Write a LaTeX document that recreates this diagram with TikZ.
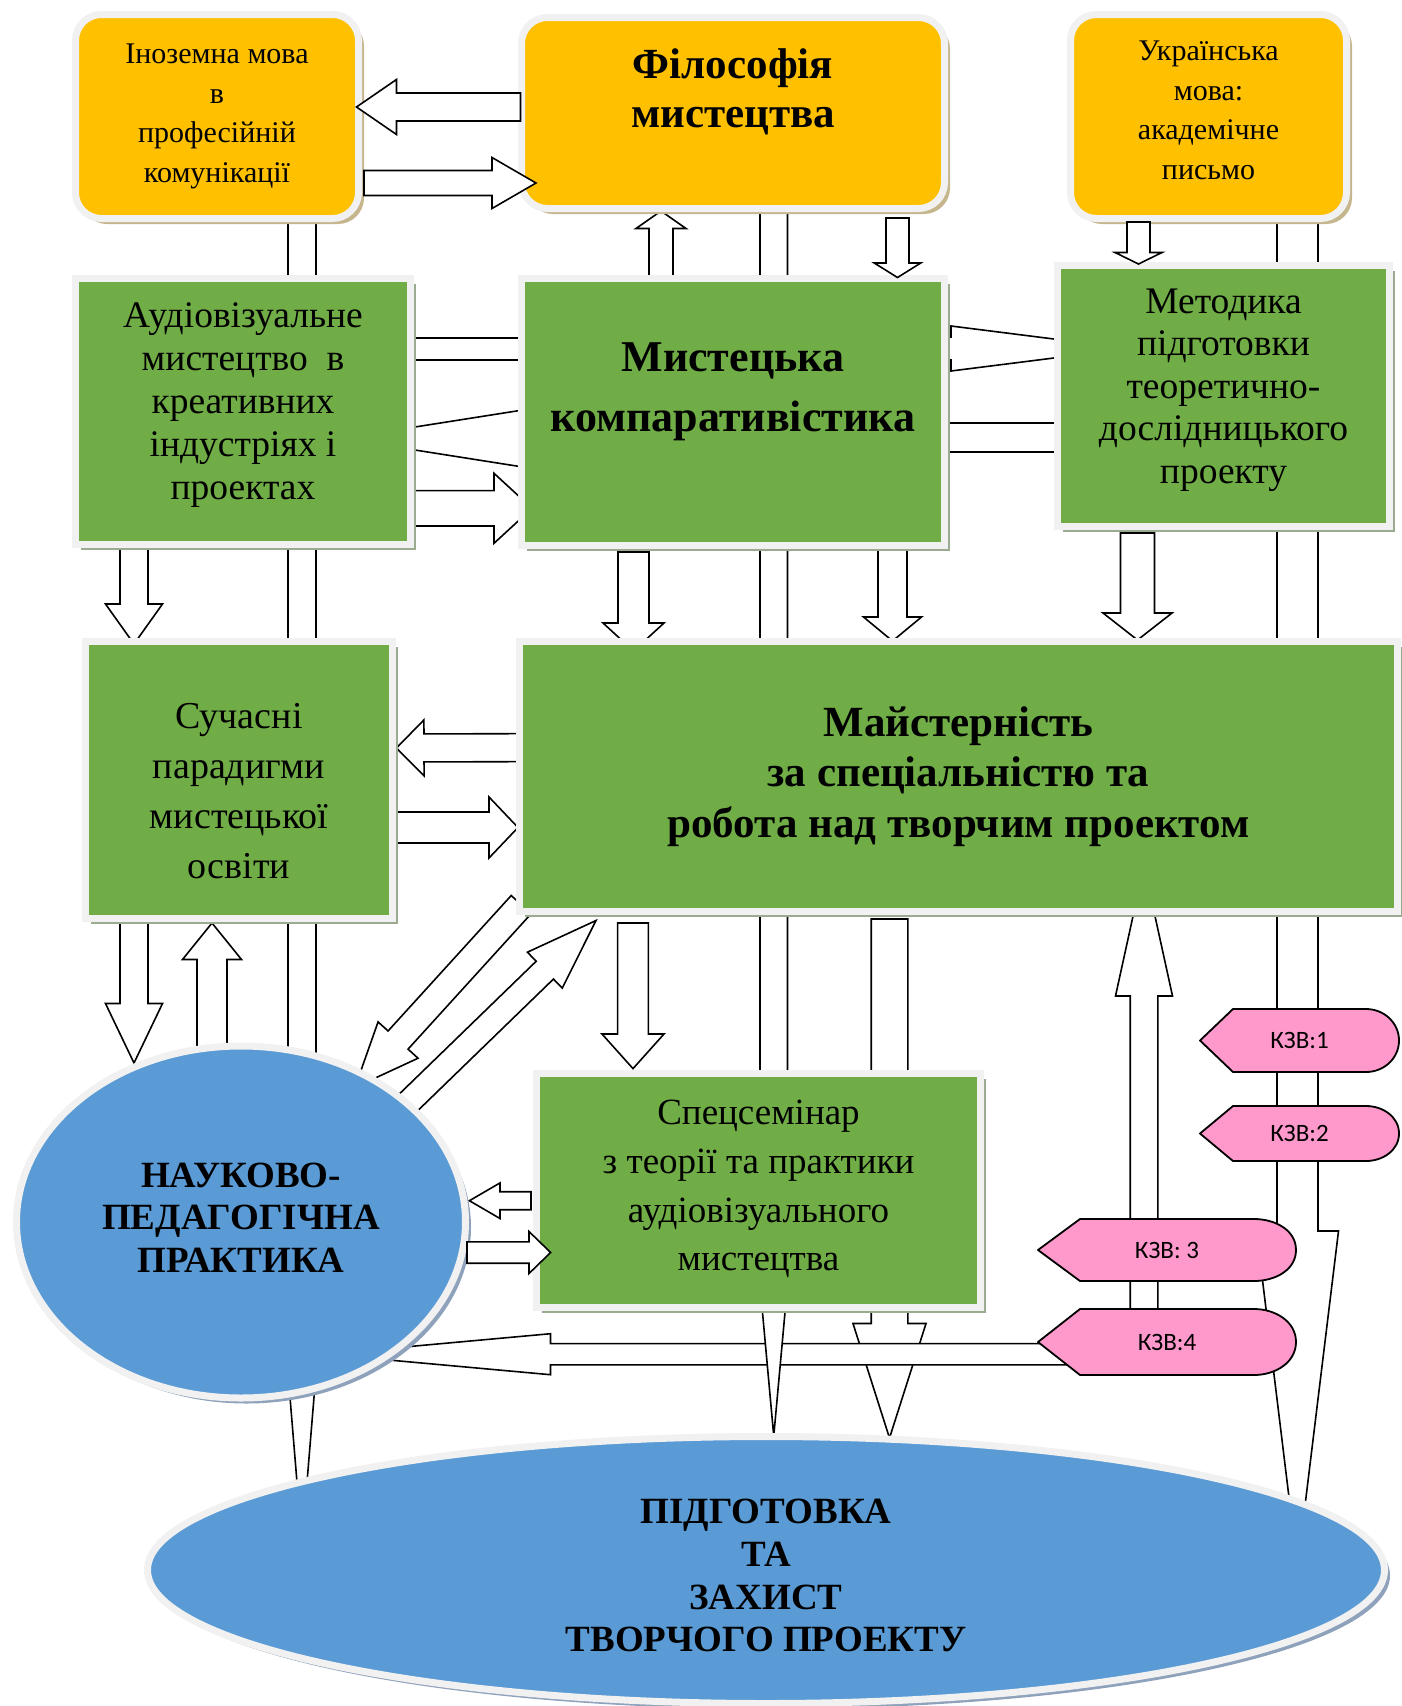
\documentclass[tikz,border=0pt]{standalone}
\usepackage{fontspec}
\setmainfont{Liberation Serif}
\newfontfamily\kzvfont{Carlito}
\usetikzlibrary{calc,shadows,shapes.geometric,backgrounds}

\definecolor{orangefill}{HTML}{FFC000}
\definecolor{greenfill}{HTML}{70AD47}
\definecolor{bluefill}{HTML}{5B9BD5}
\definecolor{pinkfill}{HTML}{FF99CC}
\definecolor{framegray}{HTML}{F1F1F1}
\definecolor{tanshadow}{HTML}{C6B68E}
\definecolor{greenshadow}{HTML}{9AAB90}
\definecolor{blueshadow}{HTML}{8FA2BC}

\tikzset{
  box/.style={rectangle, draw=framegray, line width=7pt, inner sep=0pt, align=center},
  orangebox/.style={box, fill=orangefill, rounded corners=26pt,
    drop shadow={shadow xshift=5.5pt, shadow yshift=-5.5pt, fill=tanshadow, opacity=1}},
  greenbox/.style={box, fill=greenfill,
    drop shadow={shadow xshift=5.5pt, shadow yshift=-5.5pt, fill=greenshadow, opacity=1}},
  bluebox/.style={ellipse, draw=framegray, line width=7pt, inner sep=0pt, align=center, fill=bluefill,
    drop shadow={shadow xshift=5.5pt, shadow yshift=-5.5pt, fill=blueshadow, opacity=1}},
  fatline/.style={draw=black, fill=white, line width=1.6pt, line join=miter, miter limit=25},
  kzvline/.style={draw=black, fill=pinkfill, line width=1.8pt, line join=round},
  kzvtext/.style={inner sep=0pt, font=\kzvfont\fontsize{25}{30}\selectfont},
}

% struts that move a text block inside its box
\newcommand{\lowstrut}[1]{\rule[-#1pt]{0pt}{#1pt}}
\newcommand{\highstrut}[1]{\rule{0pt}{#1pt}}

% block arrow: from, to, half shaft, half head, head length
\newcommand{\fatarrow}[5]{%
  \coordinate (fa-s) at #1;
  \coordinate (fa-e) at #2;
  \coordinate (fa-h) at ($(fa-e)!#5pt!(fa-s)$);
  \draw[fatline] ($(fa-s)!#3pt!90:(fa-e)$) -- ($(fa-h)!#3pt!-90:(fa-s)$)
    -- ($(fa-h)!#4pt!-90:(fa-s)$) -- (fa-e)
    -- ($(fa-h)!#4pt!90:(fa-s)$) -- ($(fa-h)!#3pt!90:(fa-s)$)
    -- ($(fa-s)!#3pt!-90:(fa-e)$) -- cycle;
}

% pink sign: name, centre, half width, half height, point depth, text
\newcommand{\kzvsign}[6]{%
  \coordinate (#1-c) at #2;
  \draw[kzvline] ($(#1-c)+(-#3,0)$) -- ($(#1-c)+(-#3+#5,-#4)$) -- ($(#1-c)+(#3-#5,-#4)$)
    to[out=0,in=90] ($(#1-c)+(#3,0)$) to[out=-90,in=0] ($(#1-c)+(#3-#5,#4)$)
    -- ($(#1-c)+(-#3+#5,#4)$) -- cycle;
  \node[kzvtext] (#1) at (#1-c) {#6};
}

\begin{document}
\begin{tikzpicture}[x=1pt,y=-1pt]
  \useasboundingbox (0,0) rectangle (1402,1706);

  \node[orangebox, minimum width=283pt, minimum height=204pt, font=\fontsize{30}{39.5}\selectfont]
    (inoz) at (217,116.5) {Іноземна мова\\в\\професійній\\комунікації};
  \node[orangebox, minimum width=423pt, minimum height=191pt, font=\bfseries\fontsize{43}{49}\selectfont]
    (filos) at (733,113) {Філософія\\мистецтва\\\mbox{}};
  \node[orangebox, minimum width=276pt, minimum height=204pt, font=\fontsize{30}{39.5}\selectfont]
    (ukr) at (1208.5,116.5) {Українська\\мова:\\академічне\\письмо\lowstrut{12.5}};

  \node[greenbox, minimum width=335pt, minimum height=266pt, font=\fontsize{37.5}{43}\selectfont]
    (audio) at (243,411.5) {Аудіовізуальне\\мистецтво~ в\\креативних\\індустріях і\\проектах\lowstrut{20}};
  \node[greenbox, minimum width=423pt, minimum height=267pt, font=\bfseries\fontsize{44}{60}\selectfont]
    (mist) at (733,412) {\highstrut{38}Мистецька\\компаративістика\\\mbox{}};
  \node[greenbox, minimum width=332pt, minimum height=261pt, font=\fontsize{37.5}{42.6}\selectfont]
    (metod) at (1223.5,396) {Методика\\підготовки\\теоретично-\\дослідницького\\проекту\lowstrut{20}};

  \node[greenbox, minimum width=307pt, minimum height=277pt, font=\fontsize{38}{50}\selectfont]
    (such) at (239,780) {\highstrut{48}Сучасні\\парадигми\\мистецької\\освіти};
  \node[greenbox, minimum width=878pt, minimum height=270pt, font=\bfseries\fontsize{43}{50.5}\selectfont]
    (maist) at (958.5,776.5) {Майстерність\\за спеціальністю та\\робота над творчим проектом};

  \node[greenbox, minimum width=444pt, minimum height=234pt, font=\fontsize{37}{48.8}\selectfont]
    (spec) at (758.5,1190.5) {Спецсемінар\\з теорії та практики\\аудіовізуального\\мистецтва\lowstrut{10}};
  \node[bluebox, minimum width=449pt, minimum height=352pt, font=\bfseries\fontsize{37}{42.5}\selectfont]
    (nauk) at (241,1222) {НАУКОВО-\\ПЕДАГОГІЧНА\\ПРАКТИКА\lowstrut{9}};
  \node[bluebox, minimum width=1237pt, minimum height=267pt, font=\bfseries\fontsize{37}{42.7}\selectfont]
    (pidg) at (766,1570) {\highstrut{36}ПІДГОТОВКА\\ТА\\ЗАХИСТ\\ТВОРЧОГО ПРОЕКТУ};

  \kzvsign{kzv1}{(1299.5,1040.5)}{99.5}{31.5}{33}{КЗВ:1}
  \kzvsign{kzv2}{(1299.5,1133.5)}{99.5}{27.5}{33}{КЗВ:2}
  \kzvsign{kzv3}{(1167,1250)}{129}{31}{42}{КЗВ: 3}
  \kzvsign{kzv4}{(1167,1342)}{129}{33}{42}{КЗВ:4}

  \begin{scope}[on background layer]
    \fatarrow{($(inoz.center)+(85,105.5)$)}{($(pidg.center)+(-464,-27)$)}{14}{14}{170}
    \fatarrow{($(mist.center)+(-72,-112)$)}{($(filos.center)+(-72,98)$)}{12}{25}{17.5}
    \fatarrow{($(ukr.center)+(89,105.5)$)}{($(pidg.center)+(531.5,-3)$)}{20.5}{41}{336}
    \draw[fatline] ($(audio.center)+(157,-73.5)$) rectangle ($(mist.center)+(-193,-52)$);
    \fatarrow{($(mist.center)+(-133,26.5)$)}{($(audio.center)+(99,27)$)}{11}{32}{203}
    \fatarrow{($(audio.center)+(57,96.8)$)}{($(mist.center)+(-201,96.3)$)}{17.7}{35}{38}
    \fatarrow{($(mist.center)+(167,-63.5)$)}{($(metod.center)+(-94.5,-47.5)$)}{11.5}{22.5}{178}
    \draw[fatline] ($(mist.center)+(167,11)$) rectangle ($(metod.center)+(-123.5,56)$);
    \fatarrow{($(mist.center)+(-99.5,140)$)}{($(maist.center)+(-325,-125.5)$)}{15.5}{30.5}{28}
    \fatarrow{($(mist.center)+(159.5,128)$)}{($(maist.center)+(-66,-135.5)$)}{14.5}{29}{24}
    \fatarrow{($(metod.center)+(-86,137)$)}{($(maist.center)+(179,-136.5)$)}{17}{34.5}{27}
    \fatarrow{($(audio.center)+(-109,128.5)$)}{($(such.center)+(-105,-136)$)}{14}{28.5}{40}
    \fatarrow{($(maist.center)+(-418.5,-28.9)$)}{($(such.center)+(157.4,-32)$)}{14}{28}{27.6}
    \fatarrow{($(such.center)+(158,47.5)$)}{($(maist.center)+(-440.5,51)$)}{15.5}{30.5}{29}
    \fatarrow{($(such.center)+(-105,135)$)}{($(nauk.center)+(-107,-159)$)}{14}{28.5}{59.5}
    \fatarrow{($(nauk.center)+(-29,-162)$)}{($(such.center)+(-27,143)$)}{15}{29.5}{36.5}
    \fatarrow{($(maist.center)+(-437.3,128.1)$)}{($(nauk.center)+(114,-134.6)$)}{13.5}{27}{64}
    \fatarrow{($(nauk.center)+(159,-111.4)$)}{($(maist.center)+(-362.5,144)$)}{12.4}{25}{71.3}
    \fatarrow{($(maist.center)+(-325.5,146.5)$)}{($(spec.center)+(-125.5,-121.9)$)}{15.4}{31}{34.6}
    \fatarrow{($(spec.center)+(-227.5,10.2)$)}{($(nauk.center)+(228.4,-21.3)$)}{9}{17.8}{30.6}
    \fatarrow{($(kzv4.center)+(-23,-12)$)}{($(maist.center)+(185.5,89.5)$)}{13.8}{28.5}{130}
    \fatarrow{($(maist.center)+(-69,142.5)$)}{($(pidg.center)+(123.5,-132)$)}{18.3}{36.5}{114.5}
    \fatarrow{($(kzv4.center)+(-67,12.2)$)}{($(nauk.center)+(84,132.2)$)}{10.65}{20.5}{225.5}
    \fatarrow{($(filos.center)+(40.75,99.5)$)}{($(pidg.center)+(7.75,-134)$)}{13.75}{13.75}{151}
  \end{scope}

  \fatarrow{($(filos.center)+(-212.5,-6)$)}{($(inoz.center)+(139.5,-9.5)$)}{14}{27.5}{40}
  \fatarrow{($(inoz.center)+(147,66.5)$)}{($(filos.center)+(-197,70)$)}{12.5}{25.5}{44}
  \fatarrow{($(filos.center)+(164.5,105)$)}{($(mist.center)+(164.5,-134.5)$)}{11.5}{23.25}{14.5}
  \fatarrow{($(ukr.center)+(-70,105.5)$)}{($(metod.center)+(-85,-132)$)}{11.5}{23.5}{11.5}
  \fatarrow{($(nauk.center)+(226,30.5)$)}{($(spec.center)+(-207.9,62)$)}{10.7}{21}{21.6}
\end{tikzpicture}
\end{document}
